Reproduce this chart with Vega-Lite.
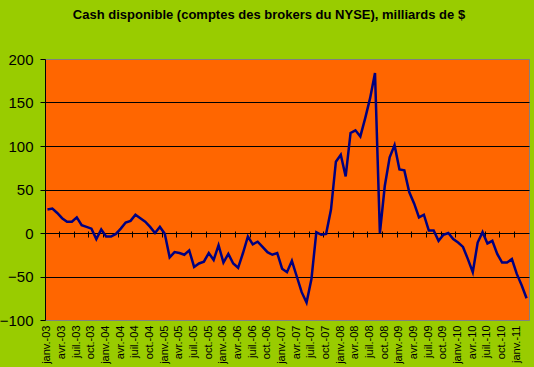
{
  "$schema": "https://vega.github.io/schema/vega-lite/v6.json",
  "width": 484,
  "height": 261,
  "autosize": {"type": "none"},
  "padding": {"left": 45, "top": 59, "right": 5, "bottom": 47},
  "background": "#99CC00",
  "config": {
    "view": {"fill": "#FF6600", "stroke": "#808080", "strokeWidth": 1},
    "font": "Liberation Sans",
    "axis": {"labelFont": "Liberation Sans", "labelColor": "#000000"}
  },
  "title": {
    "text": "Cash disponible (comptes des brokers du NYSE), milliards de $",
    "font": "Liberation Sans",
    "fontSize": 13,
    "fontWeight": "bold",
    "color": "#000000",
    "anchor": "middle",
    "frame": "group",
    "dx": -18,
    "offset": 30
  },
  "data": {
    "values": [
      {"mois": "janv.-03", "cash": 27}, {"mois": "févr.-03", "cash": 28}, {"mois": "mars-03", "cash": 23},
      {"mois": "avr.-03", "cash": 17}, {"mois": "mai-03", "cash": 13}, {"mois": "juin-03", "cash": 13},
      {"mois": "juil.-03", "cash": 18}, {"mois": "août-03", "cash": 9}, {"mois": "sept.-03", "cash": 7},
      {"mois": "oct.-03", "cash": 5}, {"mois": "nov.-03", "cash": -7}, {"mois": "déc.-03", "cash": 4},
      {"mois": "janv.-04", "cash": -4}, {"mois": "févr.-04", "cash": -4}, {"mois": "mars-04", "cash": -1},
      {"mois": "avr.-04", "cash": 5}, {"mois": "mai-04", "cash": 12}, {"mois": "juin-04", "cash": 14},
      {"mois": "juil.-04", "cash": 21}, {"mois": "août-04", "cash": 17}, {"mois": "sept.-04", "cash": 13},
      {"mois": "oct.-04", "cash": 7}, {"mois": "nov.-04", "cash": 0}, {"mois": "déc.-04", "cash": 7},
      {"mois": "janv.-05", "cash": -1}, {"mois": "févr.-05", "cash": -28}, {"mois": "mars-05", "cash": -22},
      {"mois": "avr.-05", "cash": -23}, {"mois": "mai-05", "cash": -25}, {"mois": "juin-05", "cash": -20},
      {"mois": "juil.-05", "cash": -39}, {"mois": "août-05", "cash": -35}, {"mois": "sept.-05", "cash": -33},
      {"mois": "oct.-05", "cash": -23}, {"mois": "nov.-05", "cash": -31}, {"mois": "déc.-05", "cash": -14},
      {"mois": "janv.-06", "cash": -34}, {"mois": "févr.-06", "cash": -24}, {"mois": "mars-06", "cash": -35},
      {"mois": "avr.-06", "cash": -40}, {"mois": "mai-06", "cash": -23}, {"mois": "juin-06", "cash": -4},
      {"mois": "juil.-06", "cash": -13}, {"mois": "août-06", "cash": -10}, {"mois": "sept.-06", "cash": -16},
      {"mois": "oct.-06", "cash": -22}, {"mois": "nov.-06", "cash": -25}, {"mois": "déc.-06", "cash": -23},
      {"mois": "janv.-07", "cash": -41}, {"mois": "févr.-07", "cash": -45}, {"mois": "mars-07", "cash": -32},
      {"mois": "avr.-07", "cash": -50}, {"mois": "mai-07", "cash": -68}, {"mois": "juin-07", "cash": -80},
      {"mois": "juil.-07", "cash": -53}, {"mois": "août-07", "cash": 1}, {"mois": "sept.-07", "cash": -2},
      {"mois": "oct.-07", "cash": -1}, {"mois": "nov.-07", "cash": 27}, {"mois": "déc.-07", "cash": 82},
      {"mois": "janv.-08", "cash": 90}, {"mois": "févr.-08", "cash": 65}, {"mois": "mars-08", "cash": 115},
      {"mois": "avr.-08", "cash": 118}, {"mois": "mai-08", "cash": 111}, {"mois": "juin-08", "cash": 132},
      {"mois": "juil.-08", "cash": 155}, {"mois": "août-08", "cash": 184}, {"mois": "sept.-08", "cash": 0},
      {"mois": "oct.-08", "cash": 54}, {"mois": "nov.-08", "cash": 87}, {"mois": "déc.-08", "cash": 101},
      {"mois": "janv.-09", "cash": 73}, {"mois": "févr.-09", "cash": 72}, {"mois": "mars-09", "cash": 47},
      {"mois": "avr.-09", "cash": 34}, {"mois": "mai-09", "cash": 18}, {"mois": "juin-09", "cash": 21},
      {"mois": "juil.-09", "cash": 3}, {"mois": "août-09", "cash": 3}, {"mois": "sept.-09", "cash": -9},
      {"mois": "oct.-09", "cash": -2}, {"mois": "nov.-09", "cash": 0}, {"mois": "déc.-09", "cash": -7},
      {"mois": "janv.-10", "cash": -11}, {"mois": "févr.-10", "cash": -16}, {"mois": "mars-10", "cash": -30},
      {"mois": "avr.-10", "cash": -45}, {"mois": "mai-10", "cash": -11}, {"mois": "juin-10", "cash": 1},
      {"mois": "juil.-10", "cash": -12}, {"mois": "août-10", "cash": -9}, {"mois": "sept.-10", "cash": -24},
      {"mois": "oct.-10", "cash": -34}, {"mois": "nov.-10", "cash": -34}, {"mois": "déc.-10", "cash": -30},
      {"mois": "janv.-11", "cash": -47}, {"mois": "févr.-11", "cash": -60}, {"mois": "mars-11", "cash": -75}
    ]
  },
  "resolve": {"axis": {"x": "independent"}},
  "layer": [
    {
      "mark": {"type": "line", "opacity": 0},
      "encoding": {
        "x": {
          "field": "mois", "type": "ordinal", "sort": null, "bandPosition": 0.5,
          "scale": {"type": "band", "paddingInner": 0, "paddingOuter": 0},
          "axis": {
            "orient": "top", "offset": -178, "title": null, "labels": false, "domain": false, "grid": false,
            "ticks": true, "tickSize": 6, "tickColor": "#000000", "tickWidth": 1, "bandPosition": 0,
            "values": ["avr.-03","juil.-03","oct.-03","janv.-04","avr.-04","juil.-04","oct.-04","janv.-05","avr.-05","juil.-05","oct.-05","janv.-06","avr.-06","juil.-06","oct.-06","janv.-07","avr.-07","juil.-07","oct.-07","janv.-08","avr.-08","juil.-08","oct.-08","janv.-09","avr.-09","juil.-09","oct.-09","janv.-10","avr.-10","juil.-10","oct.-10","janv.-11"]
          }
        },
        "y": {
          "field": "cash", "type": "quantitative",
          "scale": {"domain": [-100, 200], "nice": false, "zero": false},
          "axis": {
            "title": null, "values": [-100, -50, 0, 50, 100, 150, 200],
            "labelFontSize": 15, "labelPadding": 7, "tickSize": 5, "tickColor": "#000000",
            "domainColor": "#000000", "grid": true,
            "gridColor": {"condition": {"test": "datum.value == 200 || datum.value == -100", "value": "#808080"}, "value": "#000000"},
            "gridOpacity": 1
          }
        }
      }
    },
    {
      "mark": {"type": "line", "color": "#000080", "strokeWidth": 2.5},
      "encoding": {
        "x": {
          "field": "mois", "type": "ordinal", "sort": null, "bandPosition": 0.5,
          "axis": {
            "orient": "bottom", "title": null, "labelAngle": -90, "labelFontSize": 11, "labelPadding": 5,
            "labelOverlap": false, "labelBound": false, "labelFlush": false,
            "labelExpr": "indexof(['janv.', 'avr.', 'juil.', 'oct.'], split(datum.label, '-')[0]) >= 0 ? datum.label : ''",
            "ticks": false, "domain": false, "grid": false
          }
        },
        "y": {
          "field": "cash", "type": "quantitative",
          "axis": {
            "title": null, "values": [-100, -50, 0, 50, 100, 150, 200],
            "labelFontSize": 15, "labelPadding": 7, "tickSize": 5, "tickColor": "#000000",
            "domainColor": "#000000", "grid": true,
            "gridColor": {"condition": {"test": "datum.value == 200 || datum.value == -100", "value": "#808080"}, "value": "#000000"},
            "gridOpacity": 1
          }
        }
      }
    }
  ]
}
